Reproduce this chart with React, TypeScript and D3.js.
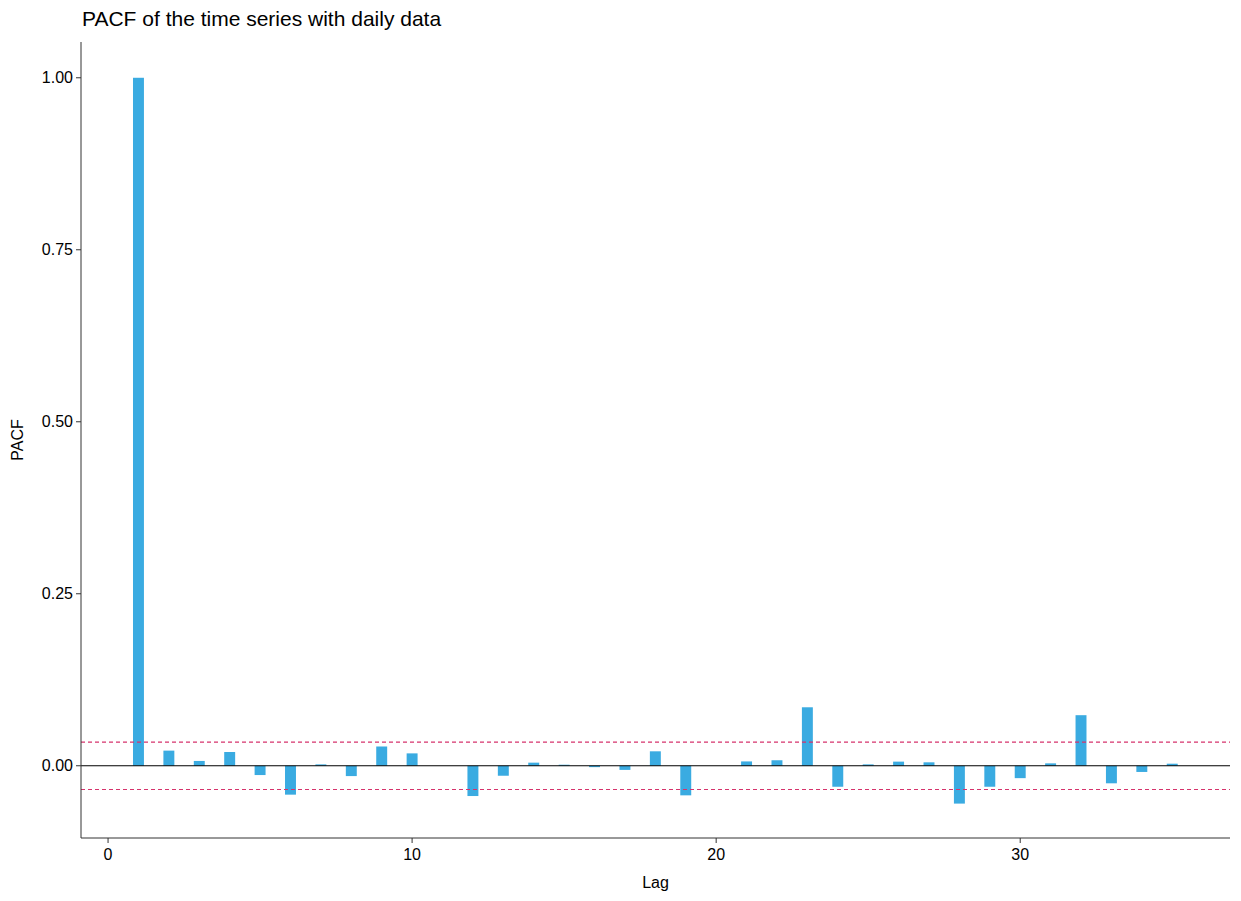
import React from "react";
import * as d3 from "d3";

const lags = Array.from({ length: 35 }, (_, i) => i + 1);
const pacf = [1.0, 0.022, 0.007, 0.02, -0.0135, -0.042, 0.002, -0.015, 0.028, 0.018,
  0, -0.044, -0.0145, 0.0045, 0.0015, -0.002, -0.006, 0.021, -0.043, 0,
  0.0063, 0.008, 0.085, -0.0305, 0.002, 0.006, 0.005, -0.055, -0.0305, -0.018,
  0.0035, 0.0735, -0.0255, -0.009, 0.003];
const ciBound = 0.0345;
const xTicks = [0, 10, 20, 30];
const yTicks = [0, 0.25, 0.5, 0.75, 1.0];

export default function App() {
  const W = 1241, H = 901;
  const L = 81, R = 1230, T = 42, B = 838;
  const x = d3.scaleLinear().domain([-0.89, 36.9]).range([L, R]);
  const y = d3.scaleLinear().domain([-0.105, 1.052]).range([B, T]);
  const bw = x(0.36) - x(0);
  const font = "Arial, 'Liberation Sans', sans-serif";
  return (
    <svg width={W} height={H} style={{ position: "absolute", left: 0, top: 0, fontFamily: font }}>
      <rect width={W} height={H} fill="#fff" />
      <text x={82} y={26} fontSize={21} fill="#000">PACF of the time series with daily data</text>
      {lags.map((l, i) => (
        <rect key={l} x={x(l) - bw / 2} width={bw}
          y={y(Math.max(0, pacf[i]))} height={Math.abs(y(pacf[i]) - y(0))} fill="#3AABE1" />
      ))}
      <line x1={L} x2={R} y1={y(0)} y2={y(0)} stroke="#000" strokeWidth={1} />
      {[ciBound, -ciBound].map((v) => (
        <line key={v} x1={L} x2={R} y1={y(v)} y2={y(v)} stroke="#D6336C" strokeWidth={1.2} strokeDasharray="4 3" />
      ))}
      <line x1={L} x2={L} y1={T} y2={B} stroke="#333" />
      <line x1={L} x2={R} y1={B} y2={B} stroke="#333" />
      {yTicks.map((t) => (
        <g key={t}>
          <line x1={L - 5} x2={L} y1={y(t)} y2={y(t)} stroke="#333" />
          <text x={L - 8} y={y(t)} dy="0.35em" textAnchor="end" fontSize={16} fill="#000">{t.toFixed(2)}</text>
        </g>
      ))}
      {xTicks.map((t) => (
        <g key={t}>
          <line x1={x(t)} x2={x(t)} y1={B} y2={B + 5} stroke="#333" />
          <text x={x(t)} y={B + 22} textAnchor="middle" fontSize={16} fill="#000">{t}</text>
        </g>
      ))}
      <text x={(L + R) / 2} y={888} textAnchor="middle" fontSize={16} fill="#000">Lag</text>
      <text transform={`translate(23,${(T + B) / 2}) rotate(-90)`} textAnchor="middle" fontSize={16} fill="#000">PACF</text>
    </svg>
  );
}
